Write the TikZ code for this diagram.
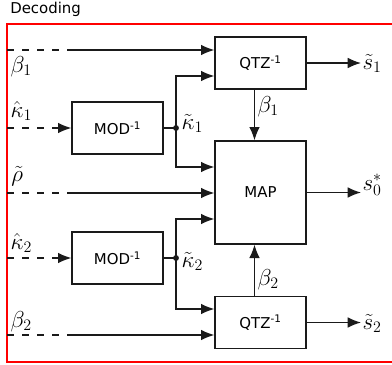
\documentclass[tikz,border=0pt]{standalone}
\usepackage{fontspec}
\setmainfont{DejaVu Sans}
\usetikzlibrary{positioning,arrows.meta,calc}
\definecolor{dcvermelho}{HTML}{FF0000}
\definecolor{dclinha}{HTML}{1A1A1A}
\tikzset{
  dcbox/.style={draw=dclinha, line width=1pt, minimum width=68.25pt, minimum height=39pt,
                inner sep=0pt, font=\fontsize{11.2}{13}\selectfont},
  dcarrow/.style={-{Latex[length=10pt,width=8pt]}, line width=1pt, draw=dclinha},
  dcwire/.style={line width=1pt, draw=dclinha},
  dcdash/.style={line width=1pt, draw=dclinha, dash pattern=on 5.5pt off 5.75pt},
  dcmath/.style={font=\fontsize{17}{20}\selectfont, inner sep=1pt},
  dcframe/.style={draw=dcvermelho, line width=0.8pt},
}
\begin{document}
\begin{tikzpicture}[x=0.75pt, y=-0.75pt]
        \useasboundingbox (0,0) rectangle (392,364);
        % ---------------- moldura ----------------
        \node[anchor=west, inner sep=0pt, font=\fontsize{11.2}{13}\selectfont] (titulo) at (10,9) {Decoding};
        \draw[dcframe] (7,24) rectangle (410,362);
        % ---------------- blocos ----------------
        \node[dcbox] (qtz1) at (260.5,63) {QTZ\textsuperscript{-1}};
        \node[dcbox, minimum height=77.25pt] (map) at (260.5,192.5) {MAP};
        \node[dcbox] (qtz2) at (260.5,322.5) {QTZ\textsuperscript{-1}};
        \node[dcbox] (mod1) at (117.5,128) {MOD\textsuperscript{-1}};
        \node[dcbox] (mod2) at (117.5,258) {MOD\textsuperscript{-1}};
        % ---------------- entradas ----------------
        \coordinate (ib1) at (7,50);
        \coordinate (ik1) at (7,128);
        \coordinate (ir) at (7,193);
        \coordinate (ik2) at (7,258);
        \coordinate (ib2) at (7,335);
        \node[dcmath, anchor=base west] (lb1) at (9,72) {$\beta_1$};
        \node[dcmath, anchor=base west] (lk1) at (9,117.5) {$\hat{\kappa}_1$};
        \node[dcmath, anchor=base west, inner sep=0pt] (lr) at (11,181) {$\tilde{\rho}$};
        \node[dcmath, anchor=base west] (lk2) at (9,249.5) {$\hat{\kappa}_2$};
        \node[dcmath, anchor=base west] (lb2) at (9,327) {$\beta_2$};
        % ---------------- saidas ----------------
        \node[dcmath, anchor=base west] (s1) at (361,69.5) {$\tilde{s}_1$};
        \node[dcmath, anchor=base west] (s0) at (361,190) {$s_0^*$};
        \node[dcmath, anchor=base west] (s2) at (361,329) {$\tilde{s}_2$};
        % ---------------- juncoes ----------------
        \coordinate (j1) at (176,128);
        \coordinate (j2) at (176,258);
        \fill[dclinha] (j1) circle (2.2pt);
        \fill[dclinha] (j2) circle (2.2pt);
        \node[dcmath, anchor=base west] (lkt1) at (180,129.5) {$\tilde{\kappa}_1$};
        \node[dcmath, anchor=base west] (lkt2) at (180,267.5) {$\tilde{\kappa}_2$};
        \node[dcmath, anchor=base west] (lbm1) at (256,112) {$\beta_1$};
        \node[dcmath, anchor=base west] (lbm2) at (256,285) {$\beta_2$};
        % ---------------- setas ----------------
        \draw[dcdash] (ib1) -- (ib1 -| mod1.west);
        \draw[dcarrow] (ib1 -| mod1.west) -- (ib1 -| qtz1.west);
        \draw[dcdash, -{Latex[length=10pt,width=8pt]}] (ik1) -- (mod1.west);
        \draw[dcdash] (ir) -- (ir -| mod1.west);
        \draw[dcarrow] (ir -| mod1.west) -- (ir -| map.west);
        \draw[dcdash, -{Latex[length=10pt,width=8pt]}] (ik2) -- (mod2.west);
        \draw[dcdash] (ib2) -- (ib2 -| mod2.west);
        \draw[dcarrow] (ib2 -| mod2.west) -- (ib2 -| qtz2.west);
        \draw[dcwire] (mod1.east) -- (j1);
        \draw[dcwire] (mod2.east) -- (j2);
        \draw[dcarrow] (j1) |- ($(qtz1.west)+(0,13)$);
        \draw[dcarrow] (j1) |- ($(map.west)+(0,-25.5)$);
        \draw[dcarrow] (j2) |- ($(map.west)+(0,26.5)$);
        \draw[dcarrow] (j2) |- ($(qtz2.west)+(0,-13.5)$);
        \draw[dcarrow] ($(qtz1.south)+(-6,0)$) -- ($(map.north)+(-6,0)$);
        \draw[dcarrow] ($(qtz2.north)+(-6,0)$) -- ($(map.south)+(-6,0)$);
        \draw[dcarrow] (qtz1.east) -- (qtz1.east -| s1.west);
        \draw[dcarrow] (map.east) -- (map.east -| s0.west);
        \draw[dcarrow] (qtz2.east) -- (qtz2.east -| s2.west);
    \end{tikzpicture}
\end{document}
